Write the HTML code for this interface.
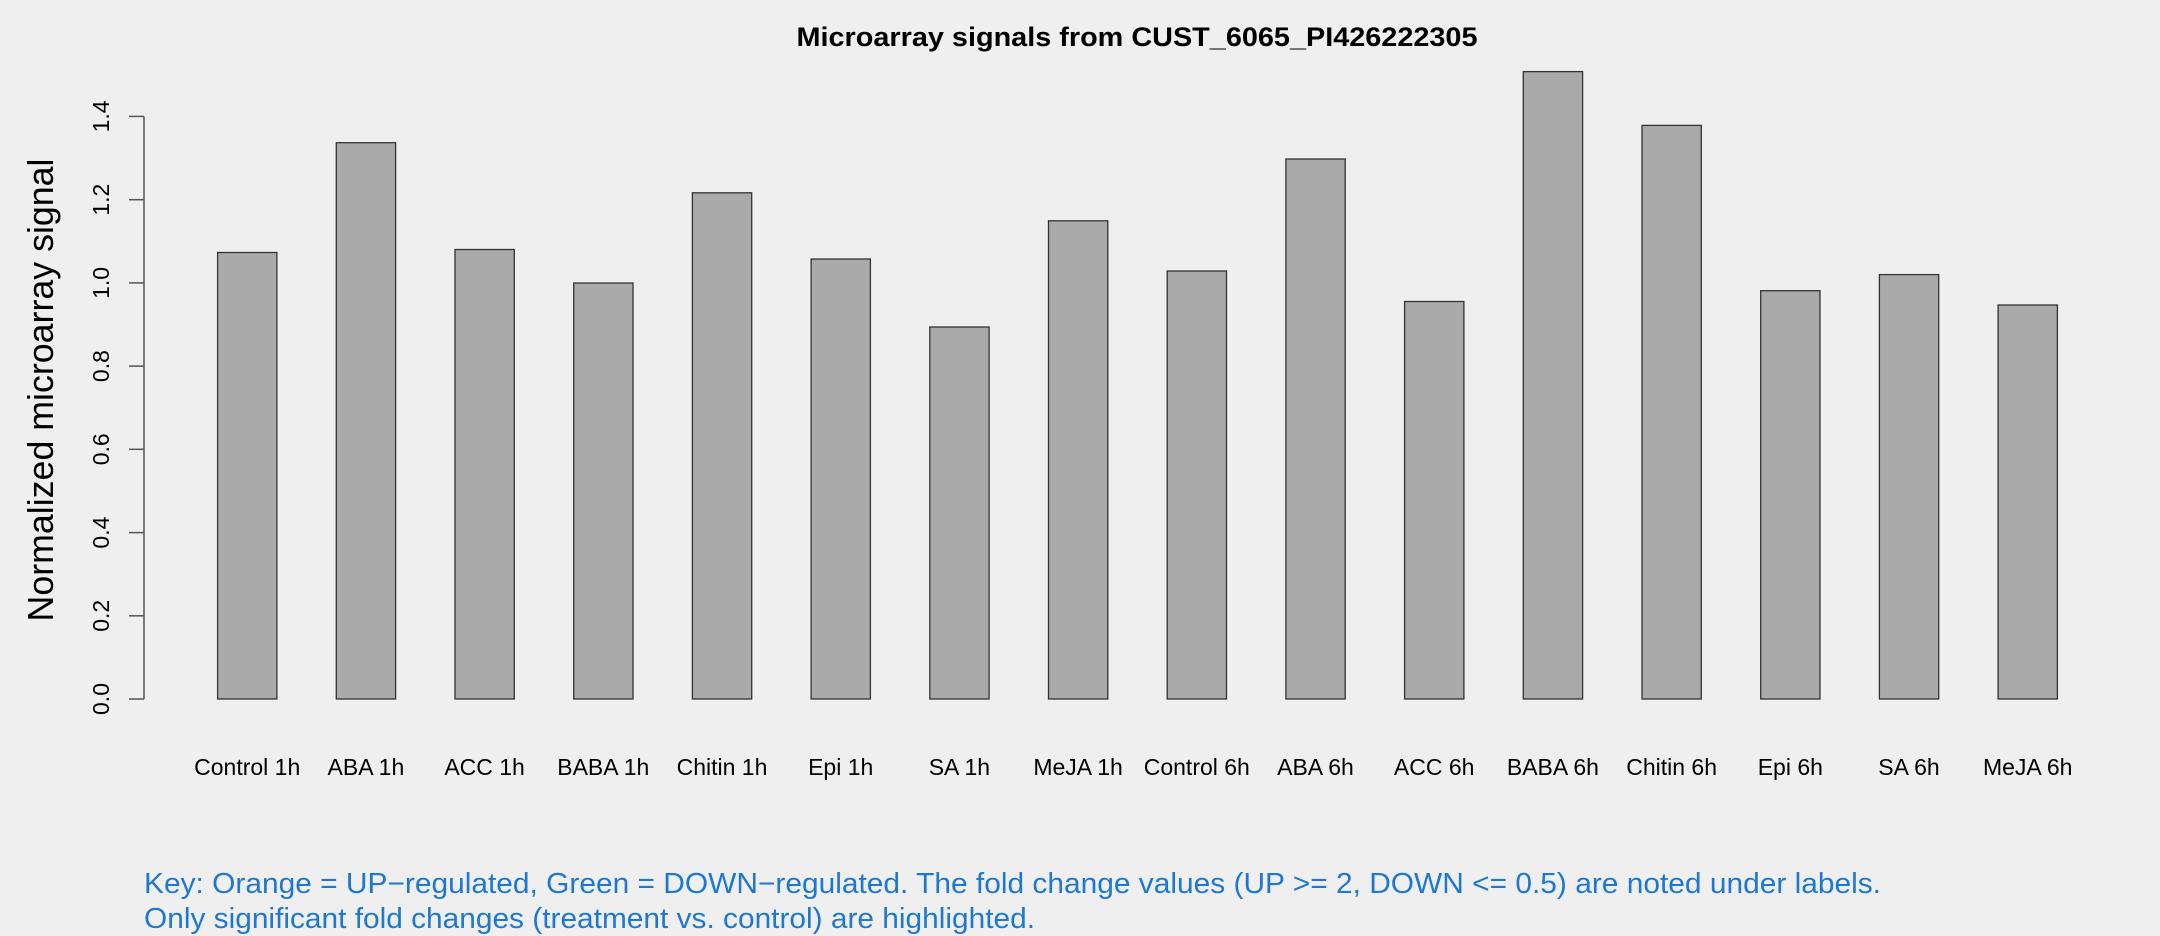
<!DOCTYPE html>
<html><head><meta charset="utf-8"><style>html,body{margin:0;padding:0;background:#efefef}svg{display:block}</style></head>
<body>
<svg width="2160" height="936" viewBox="0 0 2160 936" xmlns="http://www.w3.org/2000/svg" font-family="Liberation Sans, sans-serif">
<rect width="2160" height="936" fill="#efefef"/>
<text x="1137" y="46" font-size="27" font-weight="bold" text-anchor="middle" textLength="681" lengthAdjust="spacingAndGlyphs">Microarray signals from CUST_6065_PI426222305</text>
<g stroke="#555" stroke-width="1.5" fill="none">
<line x1="144" y1="699" x2="144" y2="116.4"/>
<line x1="129" y1="699" x2="144" y2="699"/>
<line x1="129" y1="615.8" x2="144" y2="615.8"/>
<line x1="129" y1="532.6" x2="144" y2="532.6"/>
<line x1="129" y1="449.3" x2="144" y2="449.3"/>
<line x1="129" y1="366.1" x2="144" y2="366.1"/>
<line x1="129" y1="282.9" x2="144" y2="282.9"/>
<line x1="129" y1="199.7" x2="144" y2="199.7"/>
<line x1="129" y1="116.4" x2="144" y2="116.4"/>
</g>
<g font-size="23" text-anchor="middle">
<text transform="translate(109,699) rotate(-90)">0.0</text>
<text transform="translate(109,615.8) rotate(-90)">0.2</text>
<text transform="translate(109,532.6) rotate(-90)">0.4</text>
<text transform="translate(109,449.3) rotate(-90)">0.6</text>
<text transform="translate(109,366.1) rotate(-90)">0.8</text>
<text transform="translate(109,282.9) rotate(-90)">1.0</text>
<text transform="translate(109,199.7) rotate(-90)">1.2</text>
<text transform="translate(109,116.4) rotate(-90)">1.4</text>
</g>
<text transform="translate(53,390) rotate(-90)" font-size="36" text-anchor="middle" textLength="463" lengthAdjust="spacingAndGlyphs">Normalized microarray signal</text>
<g fill="#aaaaaa" stroke="#333" stroke-width="1.3">
<rect x="217.6" y="252.5" width="59.3" height="446.5"/>
<rect x="336.3" y="142.7" width="59.3" height="556.3"/>
<rect x="455" y="249.5" width="59.3" height="449.5"/>
<rect x="573.7" y="283" width="59.3" height="416"/>
<rect x="692.4" y="192.8" width="59.3" height="506.2"/>
<rect x="811.1" y="259" width="59.3" height="440"/>
<rect x="929.8" y="327" width="59.3" height="372"/>
<rect x="1048.5" y="220.8" width="59.3" height="478.2"/>
<rect x="1167.2" y="271" width="59.3" height="428"/>
<rect x="1285.9" y="159" width="59.3" height="540"/>
<rect x="1404.6" y="301.5" width="59.3" height="397.5"/>
<rect x="1523.3" y="71.6" width="59.3" height="627.4"/>
<rect x="1642" y="125.4" width="59.3" height="573.6"/>
<rect x="1760.7" y="290.7" width="59.3" height="408.3"/>
<rect x="1879.4" y="274.6" width="59.3" height="424.4"/>
<rect x="1998.1" y="305" width="59.3" height="394"/>
</g>
<g font-size="23" text-anchor="middle">
<text x="247.2" y="775">Control 1h</text>
<text x="365.9" y="775">ABA 1h</text>
<text x="484.6" y="775">ACC 1h</text>
<text x="603.3" y="775">BABA 1h</text>
<text x="722" y="775">Chitin 1h</text>
<text x="840.7" y="775">Epi 1h</text>
<text x="959.4" y="775">SA 1h</text>
<text x="1078.1" y="775">MeJA 1h</text>
<text x="1196.8" y="775">Control 6h</text>
<text x="1315.5" y="775">ABA 6h</text>
<text x="1434.2" y="775">ACC 6h</text>
<text x="1552.9" y="775">BABA 6h</text>
<text x="1671.6" y="775">Chitin 6h</text>
<text x="1790.3" y="775">Epi 6h</text>
<text x="1909" y="775">SA 6h</text>
<text x="2027.7" y="775">MeJA 6h</text>
</g>
<g font-size="28.5" fill="#1f78cf">
<text x="144" y="893" textLength="1737" lengthAdjust="spacingAndGlyphs">Key: Orange = UP−regulated, Green = DOWN−regulated. The fold change values (UP &gt;= 2, DOWN &lt;= 0.5) are noted under labels.</text>
<text x="144" y="928" textLength="891" lengthAdjust="spacingAndGlyphs">Only significant fold changes (treatment vs. control) are highlighted.</text>
</g>
</svg>
</body></html>
